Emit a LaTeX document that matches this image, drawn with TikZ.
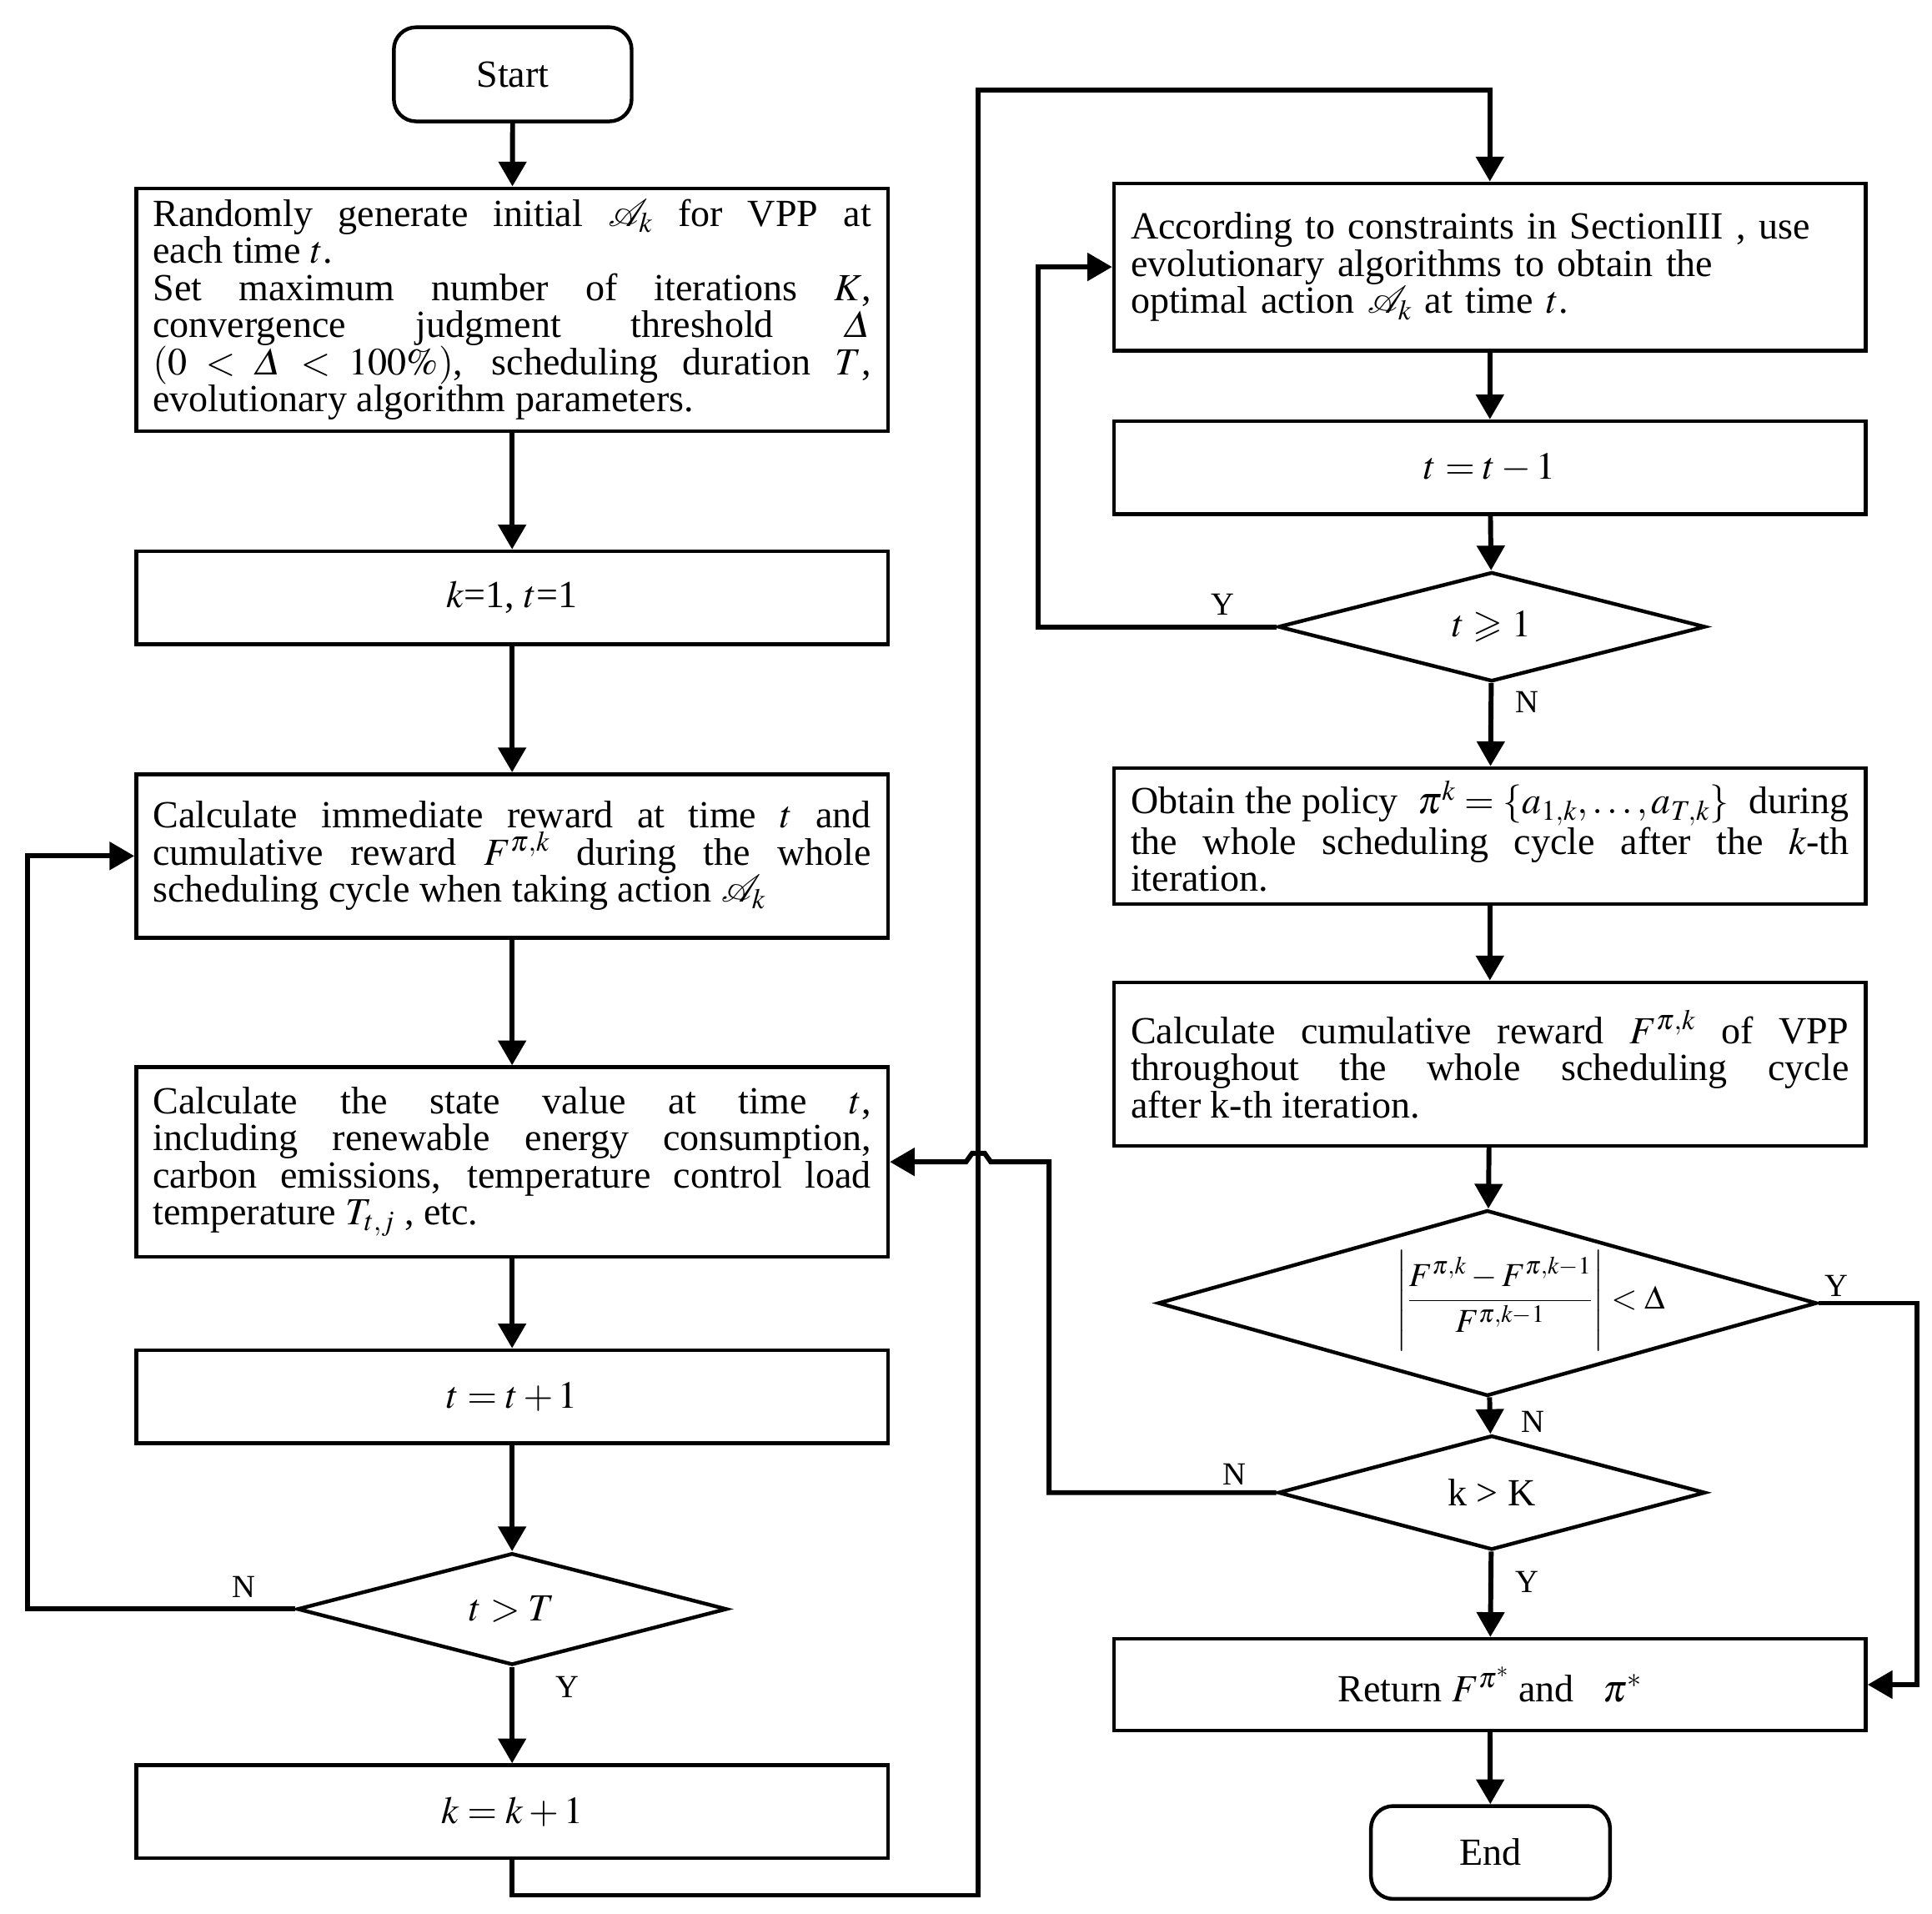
\documentclass[tikz,border=0pt]{standalone}
\usepackage{mathptmx}
\usepackage{amsmath,amssymb}
\usepackage{fontspec}
\setmainfont{Liberation Serif}
\usetikzlibrary{shapes.geometric,arrows.meta}
\begin{document}
\begin{tikzpicture}[x=1pt,y=-1pt,
  txt/.style={font=\fontsize{31}{30}\selectfont},
  box/.style={draw,line width=3pt,minimum width=607pt,inner sep=0pt,txt},
  jbox/.style={text width=580pt,align=justify},
  lbox/.style={text width=580pt,align=left},
  term/.style={draw,line width=3pt,rounded corners=18pt,minimum width=192pt,minimum height=76pt,txt},
  dia/.style={draw,shape=diamond,line width=3pt,inner sep=0pt,minimum width=346pt,minimum height=74pt,txt},
  arr/.style={line width=4pt,-{Triangle[length=20pt,width=22pt]}},
  lbl/.style={font=\fontsize{26}{26}\selectfont,inner sep=0pt}
]
\useasboundingbox (0,0) rectangle (1560,1545);
% left column
\node[term] (start) at (414,60) {Start};
\node[box,jbox,minimum height=196pt] (b1) at (413.5,250) {Randomly generate initial $\mathcal{A}_k$ for VPP at\linebreak each time $t$.\\Set maximum number of iterations $K$,\linebreak convergence judgment threshold $\varDelta$\linebreak $(0<\varDelta<100\%)$, scheduling duration $T$,\linebreak evolutionary algorithm parameters.};
\node[box,minimum height=75pt] (b2) at (413.5,482.5) {$k$=1, $t$=1};
\node[box,jbox,minimum height=132pt] (b3) at (413.5,691) {Calculate immediate reward at time $t$ and\linebreak cumulative reward $F^{\pi,k}$ during the whole\linebreak scheduling cycle when taking action $\mathcal{A}_k$};
\node[box,jbox,minimum height=153pt] (b4) at (413.5,938) {Calculate the state value at time $t$,\linebreak including renewable energy consumption,\linebreak carbon emissions, temperature control load\linebreak temperature $T_{t,j}$ , etc.};
\node[box,minimum height=75pt] (b5) at (413.5,1127.5) {$t=t+1$};
\node[dia,minimum width=347pt] (d1) at (413.5,1299) {$t>T$};
\node[box,minimum height=75pt] (b6) at (413.5,1462.5) {$k=k+1$};
% right column
\node[box,lbox,minimum height=135pt] (r1) at (1203,215.5) {According to constraints in SectionIII , use\\evolutionary algorithms to obtain the\\optimal action $\mathcal{A}_k$ at time $t$.};
\node[box,minimum height=75pt] (r2) at (1203,377.5) {$t=t-1$};
\node[dia,minimum width=345pt] (d2) at (1204.5,506) {$t\geqslant 1$};
\node[box,jbox,minimum height=110pt] (r3) at (1203,675) {Obtain the policy \ $\pi^k=\{a_{1,k},\ldots,a_{T,k}\}$ \ during\linebreak the whole scheduling cycle after the $k$-th\linebreak iteration.};
\node[box,jbox,minimum height=132pt] (r4) at (1203,859) {Calculate cumulative reward $F^{\pi,k}$ of VPP\linebreak throughout the whole scheduling cycle\linebreak after k-th iteration.};
\node[dia,minimum width=532pt,minimum height=150pt] (d3) at (1201,1052) {};
\node[font=\fontsize{27}{27}\selectfont,inner sep=0pt] (f3) at (1236,1050) {$\left|\dfrac{F^{\pi,k}-F^{\pi,k-1}}{F^{\pi,k-1}}\right|<\Delta$};
\node[dia,minimum width=345pt] (d4) at (1204.5,1205) {k > K};
\node[box,minimum height=74pt] (r5) at (1203,1360) {Return $F^{\pi^*}$ and \ \ $\pi^*$\hspace{50pt}};
\node[term,minimum width=193pt,minimum height=75pt] (end) at (1203.5,1495.5) {End};
% labels
\node[lbl] (lN1) at (197,1281) {N};
\node[lbl] (lY1) at (458,1362) {Y};
\node[lbl] (lY2) at (987,488) {Y};
\node[lbl] (lN2) at (1233,567) {N};
\node[lbl] (lY3) at (1483,1038) {Y};
\node[lbl] (lN3) at (1238,1148) {N};
\node[lbl] (lN4) at (997,1190) {N};
\node[lbl] (lY4) at (1233,1277) {Y};
% coordinates
\coordinate (c1) at (22,1299);
\coordinate (c3) at (790,1530);
\coordinate (c4) at (790,73);
\coordinate (c5) at (838,506);
\coordinate (c6) at (1548,1052);
\coordinate (c7) at (847,1205);
\coordinate (c8) at (847,938);
\coordinate (h1) at (800,938);
\coordinate (h2) at (795,931);
\coordinate (h3) at (785,931);
\coordinate (h4) at (780,938);
% connectors left
\draw[arr] (start) -- (b1);
\draw[arr] (b1) -- (b2);
\draw[arr] (b2) -- (b3);
\draw[arr] (b3) -- (b4);
\draw[arr] (b4) -- (b5);
\draw[arr] (b5) -- (d1);
\draw[arr] (d1) -- (b6);
\draw[arr] (d1.west) -- (c1) |- (b3.west);
\draw[arr] (b6.south) |- (c3) -- (c4) -| (r1.north);
% connectors right
\draw[arr] (r1) -- (r2);
\draw[arr] (r2) -- (d2);
\draw[arr] (d2.west) -- (c5) |- (r1.west);
\draw[arr] (d2) -- (r3);
\draw[arr] (r3) -- (r4);
\draw[arr] (r4) -- (d3);
\draw[arr] (d3.east) -- (c6) |- (r5.east);
\draw[arr] (d3) -- (d4);
\draw[arr] (d4.west) -- (c7) -- (c8) -- (h1) -- (h2) -- (h3) -- (h4) -- (b4.east);
\draw[arr] (d4) -- (r5);
\draw[arr] (r5) -- (end);
\end{tikzpicture}
\end{document}
